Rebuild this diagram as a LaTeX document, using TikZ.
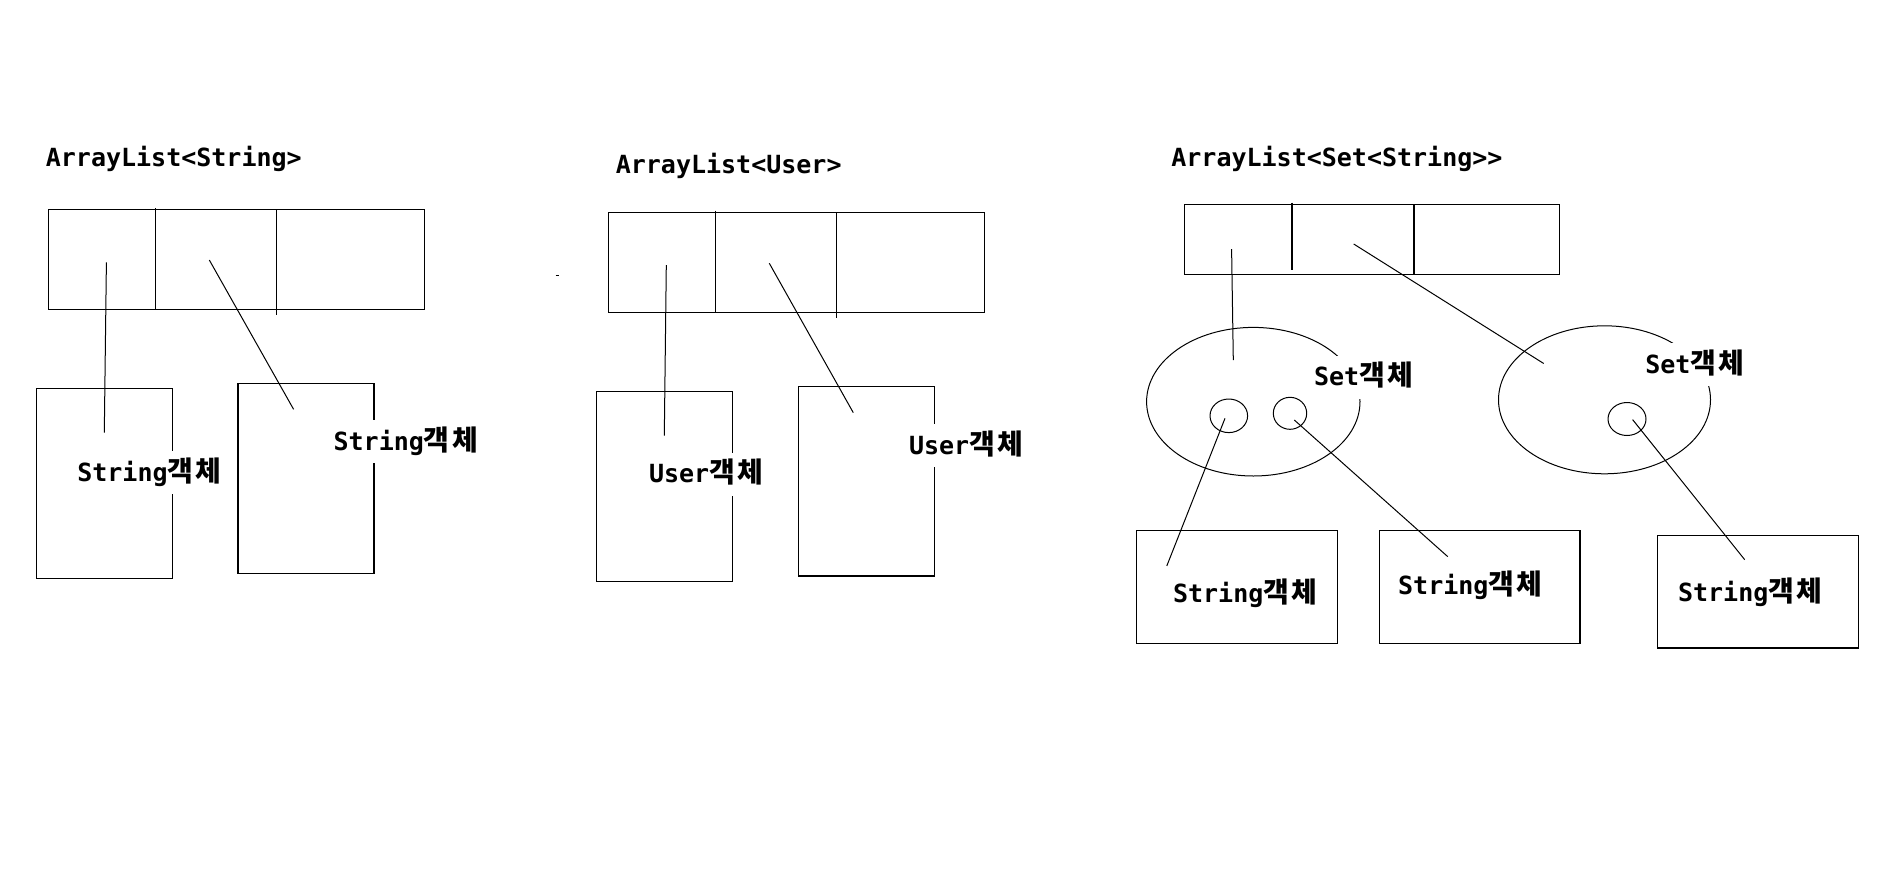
\documentclass[tikz,border=0pt]{standalone}
\usepackage{fontspec}
\setmonofont{DejaVu Sans Mono}
\newfontfamily\kr[Scale=1.12]{Noto Sans CJK KR}
\newcommand\kobj{{\kr 객\kern2.5pt 체}}
\usetikzlibrary{shapes.geometric}

\tikzset{
  wall/.style={line width=1.3pt},
  ln/.style={line width=1pt},
  arr/.style={draw, wall, rectangle, inner sep=0pt},
  obj/.style={draw, wall, rectangle, inner sep=0pt},
  setobj/.style={draw, ln, ellipse, inner sep=0pt},
  lbl/.style={font=\fontsize{25}{28}\selectfont\ttfamily\bfseries, inner sep=0pt, anchor=base},
  tag/.style={lbl, fill=white, inner xsep=6pt, inner ysep=7pt, text height=23pt, text depth=6pt}
}

\begin{document}
\begin{tikzpicture}[x=1pt, y=-1pt]
\useasboundingbox (0,0) rectangle (1898,868);

    %first list
    \node[lbl] (t1) at (173.8,166.7) {ArrayList<String>};
    \node[arr, minimum width=376pt, minimum height=100pt] (list1) at (236.3,259.3) {};
    \draw[wall] (155.4,208.3) -- (155.4,309.3);
    \draw[wall] (276.4,209.3) -- (276.4,315);
    \node[obj, minimum width=136pt, minimum height=190pt] (sa) at (104.5,483.3) {};
    \node[obj, minimum width=136pt, minimum height=190pt] (sb) at (306,478.3) {};
    \coordinate (p1) at (106.4,262.3);
    \coordinate (q1) at (104.3,432.7);
    \coordinate (p2) at (209.3,260);
    \coordinate (q2) at (293.6,409.3);
    \draw[ln] (p1) -- (q1);
    \draw[ln] (p2) -- (q2);
    \node[tag] (la) at (149.5,481) {String\kobj};
    \node[tag] (lb) at (405.8,450) {String\kobj};

    %stray mark
    \coordinate (m1) at (555.5,275.3);
    \coordinate (m2) at (558.5,275.3);
    \draw[wall] (m1) -- (m2);

    %second list
    \node[lbl] (t2) at (728.7,173.3) {ArrayList<User>};
    \node[arr, minimum width=376pt, minimum height=100pt] (list2) at (796.3,262.3) {};
    \draw[wall] (715.3,210.7) -- (715.3,312.3);
    \draw[wall] (836.3,212.3) -- (836.3,317.7);
    \node[obj, minimum width=136pt, minimum height=189.6pt] (uc) at (664.3,486.5) {};
    \node[obj, minimum width=136pt, minimum height=189.7pt] (ud) at (866.3,481.2) {};
    \coordinate (p3) at (666.3,265);
    \coordinate (q3) at (664.3,435.7);
    \coordinate (p4) at (769.3,263.3);
    \coordinate (q4) at (853.3,412.7);
    \draw[ln] (p3) -- (q3);
    \draw[ln] (p4) -- (q4);
    \node[tag] (lc) at (706.2,482.7) {User\kobj};
    \node[tag] (ld) at (966.2,454.3) {User\kobj};

    %third list
    \node[lbl] (t3) at (1336.9,166.5) {ArrayList<Set<String>>};
    \node[arr, minimum width=375.4pt, minimum height=69.9pt] (list3) at (1372.1,239.35) {};
    \draw[wall] (1291.9,202.6) -- (1291.9,269.8);
    \draw[wall] (1414,204.4) -- (1414,274.3);

    %sets
    \node[setobj, minimum width=213.4pt, minimum height=148.6pt] (set1) at (1253.3,401.7) {};
    \node[setobj, minimum width=212pt, minimum height=148pt] (set2) at (1604.5,399.8) {};
    \node[setobj, minimum width=37.6pt, minimum height=33.6pt] (e1) at (1228.8,415.8) {};
    \node[setobj, minimum width=33.4pt, minimum height=32pt] (e2) at (1290,413.3) {};
    \node[setobj, minimum width=38pt, minimum height=33pt] (e3) at (1627,419) {};
    \node[tag] (ls1) at (1363.7,385.7) {Set\kobj};
    \node[tag] (ls2) at (1694.9,373) {Set\kobj};

    %strings
    \node[obj, minimum width=201pt, minimum height=112.9pt] (se) at (1237.1,587) {};
    \node[obj, minimum width=200.5pt, minimum height=112.9pt] (sf) at (1479.6,587) {};
    \node[obj, minimum width=201pt, minimum height=112.3pt] (sg) at (1758.2,591.8) {};
    \node[lbl] (le) at (1245.2,602) {String\kobj};
    \node[lbl] (lf) at (1470.3,594.5) {String\kobj};
    \node[lbl] (lg) at (1750.2,601.4) {String\kobj};

    %pointers
    \coordinate (p5) at (1231.6,249.1);
    \coordinate (q5) at (1233.3,360);
    \coordinate (p6) at (1353.7,244);
    \coordinate (q6) at (1543.7,363.5);
    \coordinate (p7) at (1225,418.3);
    \coordinate (q7) at (1166.8,565.9);
    \coordinate (p8) at (1294.3,420);
    \coordinate (q8) at (1447.7,556.6);
    \coordinate (p9) at (1632.6,419.6);
    \coordinate (q9) at (1744.7,559.7);
    \draw[ln] (p5) -- (q5);
    \draw[ln] (p6) -- (q6);
    \draw[ln] (p7) -- (q7);
    \draw[ln] (p8) -- (q8);
    \draw[ln] (p9) -- (q9);
\end{tikzpicture}
\end{document}
